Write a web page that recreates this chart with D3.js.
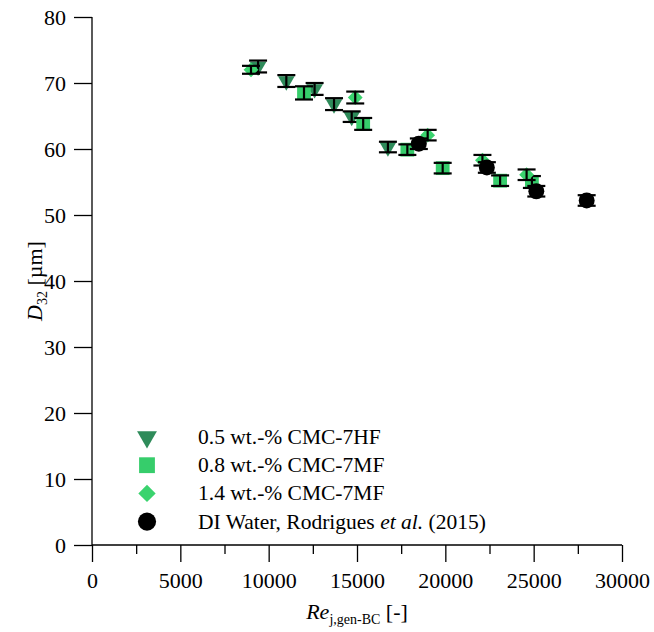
<!DOCTYPE html>
<html>
<head>
<meta charset="utf-8">
<script src="https://cdn.jsdelivr.net/npm/d3@7"></script>
<style>
  body { margin: 0; background: #fff; }
  svg text { font-family: "Liberation Serif", "Times New Roman", serif !important; fill: #000; }
</style>
</head>
<body>
<svg id="chart"></svg>
<script>
// ---- DATA ----
const cmc05Re  = [9400, 11000, 12600, 13700, 14700, 16750];
const cmc05D32 = [72.5, 70.3, 69.1, 66.8, 64.9, 60.3];
const cmc05Err = [0.9, 0.9, 0.9, 0.9, 0.8, 0.8];

const cmc08Re  = [12000, 15350, 17850, 19850, 23100, 24900];
const cmc08D32 = [68.5, 63.8, 59.9, 57.1, 55.2, 55.0];
const cmc08Err = [1.0, 0.9, 0.8, 0.8, 0.8, 0.9];

const cmc14Re  = [9000, 14900, 19000, 22100, 24600];
const cmc14D32 = [72.0, 67.8, 62.1, 58.3, 56.1];
const cmc14Err = [0.6, 0.9, 0.8, 0.8, 0.8];

const waterRe  = [18500, 22350, 25150, 28000];
const waterD32 = [60.8, 57.2, 53.6, 52.2];
const waterErr = [0.8, 0.8, 0.8, 0.8];

const xTicks = [0, 5000, 10000, 15000, 20000, 25000, 30000];
const xMinorTicks = [2500, 7500, 12500, 17500, 22500, 27500];
const yTicks = [0, 10, 20, 30, 40, 50, 60, 70, 80];

const seriesNames = ['0.5 wt.-% CMC-7HF', '0.8 wt.-% CMC-7MF', '1.4 wt.-% CMC-7MF', 'DI Water, Rodrigues '];

const width = 654, height = 632;
const margin = {top: 17, right: 32, bottom: 87, left: 92};
const serif = '"Liberation Serif", "Times New Roman", serif';

const svg = d3.select('#chart').attr('width', width).attr('height', height);

const xScale = d3.scaleLinear().domain([0, 30000]).range([margin.left, width - margin.right]);
const yScale = d3.scaleLinear().domain([0, 80]).range([height - margin.bottom, margin.top]);

// ---- AXES ----
const xAxis = svg.append('g')
  .attr('transform', `translate(0, ${yScale(0)})`)
  .call(d3.axisBottom(xScale).tickValues(xTicks).tickSize(17).tickPadding(10).tickFormat(d3.format('d')));

svg.append('g')
  .attr('transform', `translate(0, ${yScale(0)})`)
  .call(d3.axisBottom(xScale).tickValues(xMinorTicks).tickSize(9).tickFormat(''))
  .call(g => g.selectAll('.tick line').attr('stroke', '#000').attr('stroke-width', 1.3))
  .select('.domain').remove();

const yAxis = svg.append('g')
  .attr('transform', `translate(${margin.left}, 0)`)
  .call(d3.axisLeft(yScale).tickValues(yTicks).tickSize(18).tickPadding(8));

[xAxis, yAxis].forEach(g => {
  g.attr('font-family', serif);
  g.select('.domain').attr('stroke', '#000').attr('stroke-width', 1.3);
  g.selectAll('.tick line').attr('stroke', '#000').attr('stroke-width', 1.3);
  g.selectAll('.tick text').attr('font-size', 22).style('font-family', serif);
});
xAxis.select('.domain').attr('d', `M${xScale(0)},0H${xScale(30000)}`);
yAxis.select('.domain').attr('d', `M0,${yScale(80)}V${yScale(0)}`);

// ---- AXIS TITLES ----
const xTitle = svg.append('text')
  .attr('x', (xScale(0) + xScale(30000)) / 2)
  .attr('y', 619)
  .attr('text-anchor', 'middle')
  .attr('font-size', 22);
xTitle.append('tspan').attr('font-style', 'italic').text('Re');
xTitle.append('tspan').attr('font-size', 14).attr('dy', 5).text('j,gen-BC');
xTitle.append('tspan').attr('dy', -5).text(' [-]');

const yTitle = svg.append('text')
  .attr('transform', `translate(42, ${(yScale(0) + yScale(80)) / 2}) rotate(-90)`)
  .attr('text-anchor', 'middle')
  .attr('font-size', 22);
yTitle.append('tspan').attr('font-style', 'italic').text('D');
yTitle.append('tspan').attr('font-size', 14).attr('dy', 5).text('32');
yTitle.append('tspan').attr('dy', -5).text(' [µm]');

// ---- MARKERS & ERROR BARS ----
const series = [
  {re: cmc05Re, d: cmc05D32, err: cmc05Err, symbol: d3.symbolTriangle, size: 120, rotate: 180, color: '#2e8b5a'},
  {re: cmc08Re, d: cmc08D32, err: cmc08Err, symbol: d3.symbolSquare, size: 190, rotate: 0, color: '#36cd6b'},
  {re: cmc14Re, d: cmc14D32, err: cmc14Err, symbol: d3.symbolSquare, size: 110, rotate: 45, color: '#3ad36e'},
  {re: waterRe, d: waterD32, err: waterErr, symbol: d3.symbolCircle, size: 200, rotate: 0, color: '#000'}
];

const capHalf = 9;
series.forEach(s => {
  const pts = s.re.map((r, i) => ({x: r, y: s.d[i], e: s.err[i]}));
  const g = svg.append('g');
  g.selectAll('path.mark')
    .data(pts)
    .join('path')
    .attr('class', 'mark')
    .attr('d', d3.symbol().type(s.symbol).size(s.size))
    .attr('transform', p => `translate(${xScale(p.x)}, ${yScale(p.y)}) rotate(${s.rotate})`)
    .attr('fill', s.color);

  const eb = g.selectAll('g.err').data(pts).join('g').attr('class', 'err')
    .attr('stroke', '#000').attr('stroke-width', 2.2);
  eb.append('line')
    .attr('x1', p => xScale(p.x)).attr('x2', p => xScale(p.x))
    .attr('y1', p => yScale(p.y + p.e)).attr('y2', p => yScale(p.y - p.e));
  eb.append('line')
    .attr('x1', p => xScale(p.x) - capHalf).attr('x2', p => xScale(p.x) + capHalf)
    .attr('y1', p => yScale(p.y + p.e)).attr('y2', p => yScale(p.y + p.e));
  eb.append('line')
    .attr('x1', p => xScale(p.x) - capHalf).attr('x2', p => xScale(p.x) + capHalf)
    .attr('y1', p => yScale(p.y - p.e)).attr('y2', p => yScale(p.y - p.e));
});

// ---- LEGEND ----
const legend = svg.append('g');
const legendSizes = [170, 250, 150, 260];
series.forEach((s, i) => {
  const y = 437 + i * 28.2;
  legend.append('path')
    .attr('d', d3.symbol().type(s.symbol).size(legendSizes[i]))
    .attr('transform', `translate(147, ${y}) rotate(${s.rotate})`)
    .attr('fill', s.color);
  const t = legend.append('text')
    .attr('x', 198)
    .attr('y', y + 7)
    .attr('font-size', 21.5)
    .text(seriesNames[i]);
  if (i === 3) {
    t.append('tspan').attr('font-style', 'italic').text('et al.');
    t.append('tspan').text(' (2015)');
  }
});
</script>
</body>
</html>
